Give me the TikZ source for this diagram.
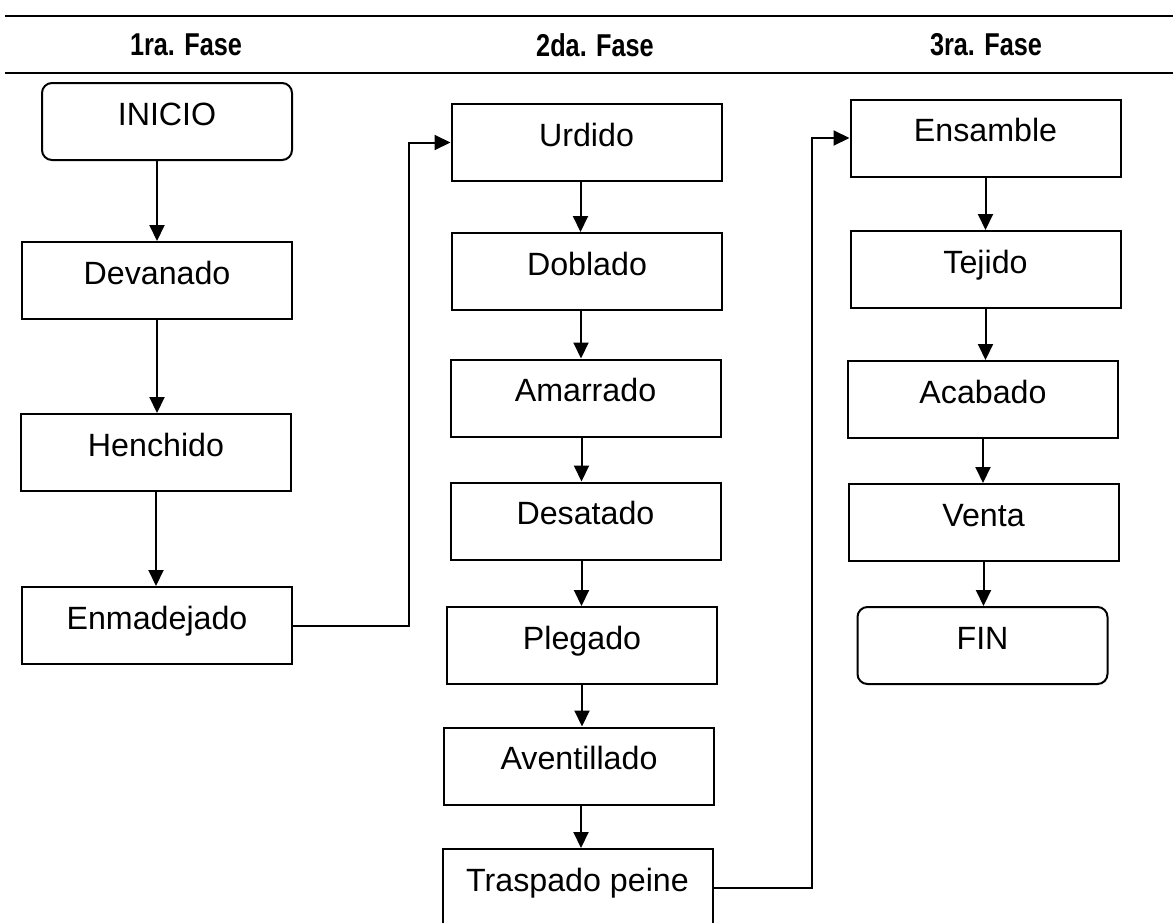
\documentclass[tikz,border=0pt]{standalone}
\usepackage{fontspec}
\setmainfont{Liberation Sans}
\newfontfamily\encabezado[FakeStretch=0.8]{Liberation Sans}
\usetikzlibrary{arrows.meta}

\begin{document}
\begin{tikzpicture}[
  x=0.5pt, y=-0.5pt,
  paso/.style={rectangle, draw, line width=1pt, minimum width=135pt, inner xsep=0pt, inner ysep=0pt,
    text height=21pt, text depth=17.5pt, font=\fontsize{16.1}{19}\selectfont},
  limite/.style={paso, rounded corners=5pt, minimum width=125pt},
  fase/.style={font=\encabezado\bfseries\fontsize{15.8}{18}\selectfont},
  flecha/.style={-{Triangle[length=8pt,width=7.5pt]}, line width=1pt}
]
\useasboundingbox (0,0) rectangle (1173,922);
\clip (0,0) rectangle (1173,922);

% encabezado
\draw[line width=1.3pt] (5,16) -- (1173,16);
\draw[line width=1.3pt] (5,73) -- (1173,73);
\node[fase] (f1) at (186,45) {1ra. Fase};
\node[fase] (f2) at (595,45) {2da. Fase};
\node[fase] (f3) at (986,45) {3ra. Fase};

% 1ra. fase
\node[limite] (inicio) at (167,121.5) {INICIO};
\node[paso] (devanado) at (157,280.5) {Devanado};
\node[paso] (henchido) at (156,452.5) {Henchido};
\node[paso] (enmadejado) at (157,625.5) {Enmadejado};

% 2da. fase
\node[paso] (urdido) at (586.5,142.5) {Urdido};
\node[paso] (doblado) at (587,271.5) {Doblado};
\node[paso] (amarrado) at (585.5,398) {Amarrado};
\node[paso] (desatado) at (585.5,521) {Desatado};
\node[paso] (plegado) at (582,645.5) {Plegado};
\node[paso] (aventillado) at (579,766) {Aventillado};
\node[paso] (traspado) at (577.5,887.5) {Traspado peine};

% 3ra. fase
\node[paso] (ensamble) at (985.5,138) {Ensamble};
\node[paso] (tejido) at (985.5,269.5) {Tejido};
\node[paso] (acabado) at (983,399.5) {Acabado};
\node[paso] (venta) at (983.5,522.5) {Venta};
\node[limite] (fin) at (982.5,645.5) {FIN};

\draw[flecha] (devanado.north |- inicio.south) -- (devanado.north);
\draw[flecha] (devanado.south) -- (devanado.south |- henchido.north);
\draw[flecha] (henchido.south) -- (henchido.south |- enmadejado.north);
\draw[flecha] (enmadejado.east) -- ++(116,0) |- (urdido.west);

\draw[flecha] ([xshift=-3pt]urdido.south) -- ([xshift=-3pt]urdido.south |- doblado.north);
\draw[flecha] ([xshift=-3pt]doblado.south) -- ([xshift=-3pt]doblado.south |- amarrado.north);
\draw[flecha] ([xshift=-2pt]amarrado.south) -- ([xshift=-2pt]amarrado.south |- desatado.north);
\draw[flecha] ([xshift=-2pt]desatado.south) -- ([xshift=-2pt]desatado.south |- plegado.north);
\draw[flecha] (plegado.south) -- (plegado.south |- aventillado.north);
\draw[flecha] ([xshift=1pt]aventillado.south) -- ([xshift=1pt]aventillado.south |- traspado.north);
\draw[flecha] (traspado.east) -- ++(98,0) |- (ensamble.west);

\draw[flecha] (ensamble.south) -- (ensamble.south |- tejido.north);
\draw[flecha] (tejido.south) -- (tejido.south |- acabado.north);
\draw[flecha] (acabado.south) -- (acabado.south |- venta.north);
\draw[flecha] (venta.south) -- (venta.south |- fin.north);
\end{tikzpicture}
\end{document}
